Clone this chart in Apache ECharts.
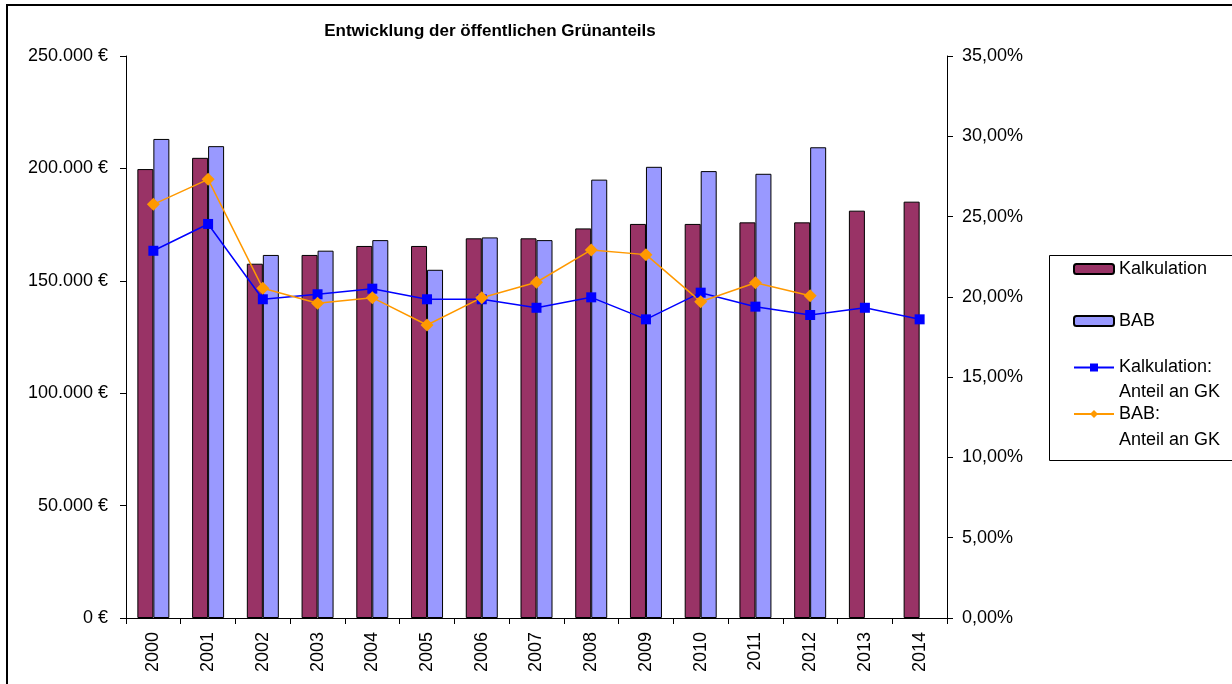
<!DOCTYPE html>
<html>
<head>
<meta charset="utf-8">
<script src="https://cdn.jsdelivr.net/npm/echarts@6/dist/echarts.min.js"></script>
<style>
  html, body { margin: 0; padding: 0; background: #fff; }
  #chart { width: 1232px; height: 684px; }
</style>
</head>
<body>
<div id="chart"></div>
<script>
// Years on the category axis
const years = ['2000','2001','2002','2003','2004','2005','2006','2007','2008','2009','2010','2011','2012','2013','2014'];

// Green-space costs in euro
const kalkulation = [199700, 204700, 157600, 161500, 165500, 165500, 168900, 168900, 173300, 175300, 175300, 176000, 176000, 181200, 185200];
const bab = [213100, 209900, 161500, 163400, 168100, 154900, 169300, 168100, 195000, 200700, 198800, 197600, 209400, null, null];

// Share of total costs (GK) in percent
const kalkAnteil = [22.87, 24.54, 19.85, 20.16, 20.51, 19.85, 19.85, 19.32, 19.97, 18.60, 20.26, 19.39, 18.87, 19.32, 18.60];
const babAnteil = [25.76, 27.32, 20.53, 19.60, 19.95, 18.25, 19.95, 20.91, 22.92, 22.63, 19.70, 20.88, 20.07, null, null];

const seriesNames = ['Kalkulation', 'BAB', 'Kalkulation:\nAnteil an GK', 'BAB:\nAnteil an GK'];
const titleText = 'Entwicklung der öffentlichen Grünanteils';

const FONT = 'Liberation Sans, Arial, sans-serif';

function euro(v) {
  if (v === 0) return '0 €';
  return String(v).replace(/\B(?=(\d{3})+(?!\d))/g, '.') + ' €';
}
function pct(v) {
  return v.toFixed(2).replace('.', ',') + '%';
}

const chart = echarts.init(document.getElementById('chart'), null, { renderer: 'canvas' });

const textBase = { color: '#000', fontFamily: FONT, fontSize: 18 };
const axisLine = { show: true, lineStyle: { color: '#000', width: 1 } };
const axisTick = { show: true, length: 6, lineStyle: { color: '#000' } };

const legendCommon = {
  orient: 'vertical',
  left: 1073,
  padding: 0,
  itemWidth: 40,
  itemHeight: 10,
  itemGap: 0,
  selectedMode: false,
  z: 5,
  textStyle: Object.assign({}, textBase)
};

// Two-line entries: a leading blank line keeps the first text line level with the icon
function twoLineLegend(name, top, lh) {
  return Object.assign({}, legendCommon, {
    data: [name], top: top,
    formatter: n => '\n' + n,
    textStyle: Object.assign({}, textBase, { lineHeight: lh })
  });
}

chart.setOption({
  animation: false,
  backgroundColor: '#fff',
  title: {
    text: titleText,
    left: 490,
    textAlign: 'center',
    top: 23,
    padding: 0,
    textStyle: { color: '#000', fontFamily: FONT, fontSize: 17, fontWeight: 'bold' }
  },
  graphic: [
    { type: 'rect', shape: { x: 7, y: 5, width: 1240, height: 700 }, style: { fill: 'none', stroke: '#000', lineWidth: 2 }, silent: true, z: 0 },
    { type: 'rect', shape: { x: 1049.5, y: 255.5, width: 200, height: 205 }, style: { fill: '#fff', stroke: '#000', lineWidth: 1 }, silent: true, z: 1 }
  ],
  legend: [
    Object.assign({}, legendCommon, { data: [seriesNames[0]], top: 260 }),
    Object.assign({}, legendCommon, { data: [seriesNames[1]], top: 312 }),
    twoLineLegend(seriesNames[2], 330, 25),
    twoLineLegend(seriesNames[3], 375, 26)
  ],
  grid: { left: 126, right: 285, top: 56, bottom: 66, containLabel: false },
  xAxis: {
    type: 'category', data: years, position: 'bottom', boundaryGap: true,
    axisLine, axisTick,
    axisLabel: Object.assign({}, textBase, { rotate: 90, margin: 14, interval: 0 }),
    splitLine: { show: false }
  },
  yAxis: [
    {
      type: 'value', position: 'left', min: 0, max: 250000, interval: 50000,
      axisLine, axisTick,
      axisLabel: Object.assign({}, textBase, { margin: 18, formatter: euro }),
      splitLine: { show: false }
    },
    {
      type: 'value', position: 'right', min: 0, max: 35, interval: 5,
      axisLine, axisTick,
      axisLabel: Object.assign({}, textBase, { margin: 15, formatter: pct }),
      splitLine: { show: false }
    }
  ],
  series: [
    {
      name: seriesNames[0], type: 'bar', data: kalkulation, yAxisIndex: 0,
      barWidth: 16, barGap: '0%',
      itemStyle: { color: '#993366', borderColor: '#000', borderWidth: 1 }
    },
    {
      name: seriesNames[1], type: 'bar', data: bab, yAxisIndex: 0,
      barWidth: 16, barGap: '0%',
      itemStyle: { color: '#9999FF', borderColor: '#000', borderWidth: 1 }
    },
    {
      name: seriesNames[2], type: 'line', data: kalkAnteil, yAxisIndex: 1,
      symbol: 'rect', symbolSize: 10, z: 4,
      lineStyle: { color: '#0000FF', width: 1.5 },
      itemStyle: { color: '#0000FF' }
    },
    {
      name: seriesNames[3], type: 'line', data: babAnteil, yAxisIndex: 1,
      symbol: 'diamond', symbolSize: 13, z: 4,
      lineStyle: { color: '#FF9900', width: 1.5 },
      itemStyle: { color: '#FF9900' }
    }
  ]
});
</script>
</body>
</html>
